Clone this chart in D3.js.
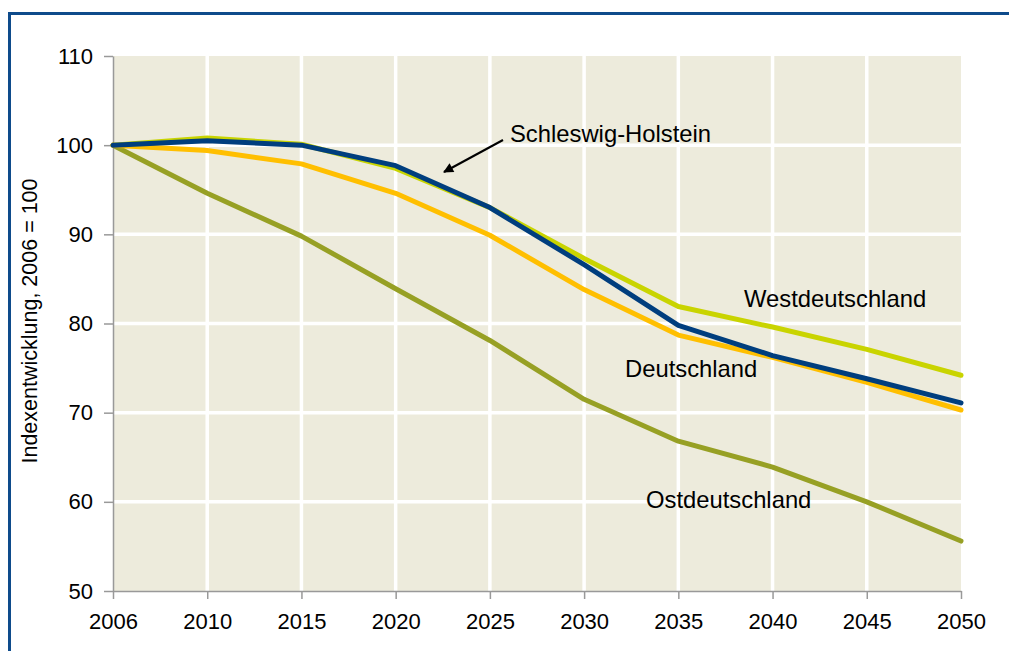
<!DOCTYPE html>
<html><head><meta charset="utf-8">
<script src="https://cdn.jsdelivr.net/npm/d3@7"></script>
<style>body{margin:0;background:#fff}svg{display:block}text{font-family:"Liberation Sans",Arial,sans-serif;fill:#000}</style>
</head><body><svg id="c" width="1009" height="651"></svg>
<script>
const years = ["2006","2010","2015","2020","2025","2030","2035","2040","2045","2050"];
const yTicks = [50,60,70,80,90,100,110];
const ostdeutschland = [100,94.6,89.8,83.9,78.1,71.5,66.8,63.9,60.0,55.6];
const westdeutschland = [100,100.8,100.1,97.4,93.0,87.3,81.9,79.6,77.1,74.2];
const deutschland = [100,99.4,97.9,94.6,89.9,83.8,78.7,76.2,73.4,70.3];
const schleswigHolstein = [100,100.5,100.0,97.7,93.0,86.6,79.8,76.4,73.8,71.1];
const seriesNames = ["Ostdeutschland","Westdeutschland","Deutschland","Schleswig-Holstein"];
const yTitle = "Indexentwicklung, 2006 = 100";

const svg = d3.select("#c");
const m = {l:113, t:56, r:961, b:591};
const x = d3.scalePoint().domain(years).range([m.l, m.r]).padding(0);
const y = d3.scaleLinear().domain([50,110]).range([m.b, m.t]);

// frame
svg.append("rect").attr("x",9.5).attr("y",13.5).attr("width",1100).attr("height",700)
  .attr("fill","none").attr("stroke","#0E4B8B").attr("stroke-width",3);

// plot bg
svg.append("rect").attr("x",m.l).attr("y",m.t).attr("width",m.r-m.l).attr("height",m.b-m.t).attr("fill","#EDEBDC");

// grid
svg.append("g").selectAll("line").data(years.slice(1,-1)).join("line")
  .attr("x1",d=>x(d)).attr("x2",d=>x(d)).attr("y1",m.t).attr("y2",m.b)
  .attr("stroke","#fff").attr("stroke-width",3.5);
svg.append("g").selectAll("line").data(yTicks.slice(1,-1)).join("line")
  .attr("x1",m.l).attr("x2",m.r).attr("y1",d=>y(d)).attr("y2",d=>y(d))
  .attr("stroke","#fff").attr("stroke-width",3.5);

// axes
const yAx = svg.append("g").attr("transform",`translate(${m.l},0)`)
  .call(d3.axisLeft(y).tickValues(yTicks).tickSize(9).tickPadding(11).tickSizeOuter(0));
const xAx = svg.append("g").attr("transform",`translate(0,${m.b})`)
  .call(d3.axisBottom(x).tickSize(8).tickPadding(14).tickSizeOuter(0));
[yAx,xAx].forEach(a=>{
  a.attr("font-size",22).attr("font-family","Liberation Sans, Arial, sans-serif");
  a.select(".domain").attr("stroke","#999").attr("stroke-width",1.5);
  a.selectAll(".tick line").attr("stroke","#999").attr("stroke-width",1.5);
  a.selectAll(".tick text").attr("fill","#000");
});

// y title
svg.append("text").attr("transform","translate(37,321) rotate(-90)").attr("text-anchor","middle")
  .attr("font-size",21.5).text(yTitle);

// lines
const line = d3.line().x((d,i)=>x(years[i])).y(d=>y(d));
const series = [
  {name:seriesNames[0], values:ostdeutschland, color:"#97A024"},
  {name:seriesNames[1], values:westdeutschland, color:"#C9D400"},
  {name:seriesNames[2], values:deutschland, color:"#FFBF00"},
  {name:seriesNames[3], values:schleswigHolstein, color:"#003E7E"}
];
svg.append("g").selectAll("path").data(series).join("path")
  .attr("d",d=>line(d.values)).attr("fill","none").attr("stroke",d=>d.color)
  .attr("stroke-width",5).attr("stroke-linejoin","round").attr("stroke-linecap","round");

// labels
const labels = [
  {t:seriesNames[3], x:510, y:142},
  {t:seriesNames[1], x:744, y:307},
  {t:seriesNames[2], x:625, y:377},
  {t:seriesNames[0], x:646, y:508}
];
svg.append("g").selectAll("text").data(labels).join("text")
  .attr("x",d=>d.x).attr("y",d=>d.y).attr("font-size",23.8).text(d=>d.t);

// arrow
svg.append("defs").append("marker").attr("id","ah").attr("viewBox","0 0 10 10")
  .attr("refX",9).attr("refY",5).attr("markerWidth",13).attr("markerHeight",10)
  .attr("markerUnits","userSpaceOnUse").attr("orient","auto")
  .append("path").attr("d","M0,0 L10,5 L0,10 Z").attr("fill","#000");
svg.append("line").attr("x1",503).attr("y1",140).attr("x2",444).attr("y2",172)
  .attr("stroke","#000").attr("stroke-width",2).attr("marker-end","url(#ah)");
</script></body></html>
